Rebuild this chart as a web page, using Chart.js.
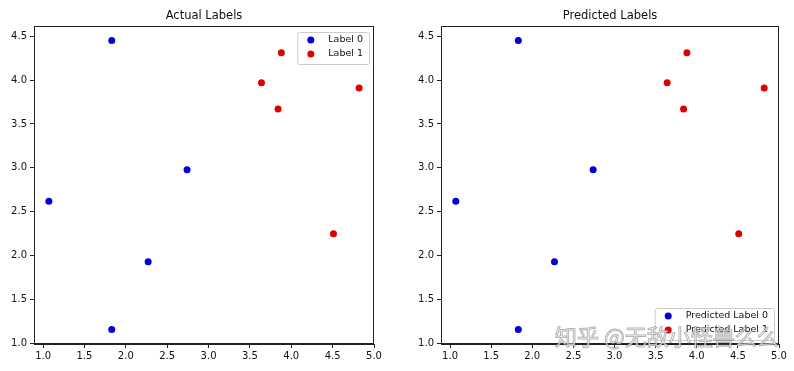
<!DOCTYPE html>
<html><head><meta charset="utf-8">
<script src="https://cdn.jsdelivr.net/npm/chart.js@4"></script>
<style>
html,body{margin:0;padding:0;background:#fff;}
#wrap{position:relative;width:794px;height:371px;overflow:hidden;}
.c{position:absolute;top:0;width:397px;height:371px;}
</style></head><body>
<div id="wrap">
<div class="c" style="left:0"><canvas id="left" width="397" height="371"></canvas></div>
<div class="c" style="left:397px"><canvas id="right" width="397" height="371"></canvas></div>
</div>
<script>
// ---- data ----
const xTicks = [1.0, 1.5, 2.0, 2.5, 3.0, 3.5, 4.0, 4.5, 5.0];
const yTicks = [1.0, 1.5, 2.0, 2.5, 3.0, 3.5, 4.0, 4.5];

const actual0X = [1.83, 2.74, 1.07, 2.27, 1.83];
const actual0Y = [4.45, 2.98, 2.62, 1.93, 1.16];
const actual1X = [3.88, 3.64, 3.84, 4.82, 4.51];
const actual1Y = [4.31, 3.97, 3.67, 3.91, 2.25];

const pred0X = [1.83, 2.74, 1.07, 2.27, 1.83];
const pred0Y = [4.45, 2.98, 2.62, 1.93, 1.16];
const pred1X = [3.88, 3.64, 3.84, 4.82, 4.51];
const pred1Y = [4.31, 3.97, 3.67, 3.91, 2.25];

const leftTitle = 'Actual Labels';
const rightTitle = 'Predicted Labels';
const leftNames = ['Label 0', 'Label 1'];
const rightNames = ['Predicted Label 0', 'Predicted Label 1'];
const watermarkText = '知乎 @无敌小怪兽么么';

// ---- styles ----
const BLUE = '#0000d8';
const RED = '#e00000';
const AXIS = '#222';
const FONT = "'DejaVu Sans', sans-serif";

function pts(xs, ys) { return xs.map((x, i) => ({ x: x, y: ys[i] })); }

const framePlugin = {
  id: 'frame',
  afterDatasetsDraw(chart, args, opts) {
    const ctx = chart.ctx, a = chart.chartArea;
    ctx.save();
    ctx.strokeStyle = AXIS; ctx.lineWidth = 1;
    ctx.strokeRect(Math.round(a.left) + 0.5, Math.round(a.top) + 0.5,
      Math.round(a.right - a.left) - 1, Math.round(a.bottom - a.top) - 1);
    // title
    ctx.fillStyle = '#111';
    ctx.font = '11.5px ' + FONT;
    ctx.textAlign = 'center'; ctx.textBaseline = 'middle';
    ctx.fillText(opts.title, (a.left + a.right) / 2, 16.5);
    // legend
    ctx.font = '9.5px ' + FONT;
    ctx.textAlign = 'left';
    const ds = chart.data.datasets;
    let tw = 0;
    ds.forEach(d => { tw = Math.max(tw, ctx.measureText(d.label).width); });
    const bw = 31 + tw + 6, bh = 32;
    const bx = a.right - 5 - bw;
    const by = opts.legend === 'upper right' ? a.top + 6 : a.bottom - 4 - bh;
    ctx.fillStyle = 'rgba(255,255,255,0.8)';
    ctx.strokeStyle = '#cccccc';
    ctx.beginPath();
    if (ctx.roundRect) ctx.roundRect(bx + 0.5, by + 0.5, bw, bh, 2); else ctx.rect(bx + 0.5, by + 0.5, bw, bh);
    ctx.fill(); ctx.stroke();
    ds.forEach((d, i) => {
      const cy = by + 8 + i * 14;
      ctx.fillStyle = d.backgroundColor;
      ctx.beginPath(); ctx.arc(bx + 13.5, cy, 3.5, 0, Math.PI * 2); ctx.fill();
      ctx.fillStyle = '#111';
      ctx.fillText(d.label, bx + 31, cy);
    });
    // watermark
    if (opts.watermark) {
      ctx.font = "22px 'Noto Sans CJK SC', sans-serif";
      ctx.textBaseline = 'middle';
      ctx.lineWidth = 1;
      ctx.strokeStyle = 'rgba(110,110,110,0.5)';
      ctx.fillStyle = 'rgba(255,255,255,0.8)';
      ctx.fillText(opts.watermark, 158, 337);
      ctx.strokeText(opts.watermark, 158, 337);
    }
    ctx.restore();
  }
};

function makeChart(id, title, names, d0, d1, legendPos, yWidth, rightPad, watermark) {
  const tickFont = { family: FONT, size: 10 };
  return new Chart(document.getElementById(id), {
    type: 'scatter',
    data: {
      datasets: [
        { label: names[0], data: d0, backgroundColor: BLUE, borderWidth: 0, pointRadius: 3.5, pointHoverRadius: 3.5 },
        { label: names[1], data: d1, backgroundColor: RED, borderWidth: 0, pointRadius: 3.5, pointHoverRadius: 3.5 }
      ]
    },
    options: {
      responsive: false,
      devicePixelRatio: 1,
      animation: false,
      events: [],
      layout: { padding: { top: 26, right: rightPad, left: 0, bottom: 0 } },
      plugins: {
        legend: { display: false },
        title: { display: false },
        tooltip: { enabled: false },
        frame: { title: title, legend: legendPos, watermark: watermark }
      },
      scales: {
        x: {
          type: 'linear', min: 0.89, max: 5.0,
          afterBuildTicks: s => { s.ticks = xTicks.map(v => ({ value: v })); },
          afterFit: s => { s.height = 27; },
          ticks: { font: tickFont, color: '#111', padding: 2, maxRotation: 0, autoSkip: false,
                   callback: v => Number(v).toFixed(1) },
          grid: { drawOnChartArea: false, drawTicks: true, tickLength: 4, color: AXIS },
          border: { display: true, color: AXIS, width: 1 }
        },
        y: {
          type: 'linear', min: 0.995, max: 4.615,
          afterBuildTicks: s => { s.ticks = yTicks.map(v => ({ value: v })); },
          afterFit: s => { s.width = yWidth; },
          ticks: { font: tickFont, color: '#111', padding: 3, autoSkip: false,
                   callback: v => Number(v).toFixed(1) },
          grid: { drawOnChartArea: false, drawTicks: true, tickLength: 4, color: AXIS },
          border: { display: true, color: AXIS, width: 1 }
        }
      }
    },
    plugins: [framePlugin]
  });
}

makeChart('left', leftTitle, leftNames, pts(actual0X, actual0Y), pts(actual1X, actual1Y), 'upper right', 34, 23, null);
makeChart('right', rightTitle, rightNames, pts(pred0X, pred0Y), pts(pred1X, pred1Y), 'lower right', 44, 15, watermarkText);
</script>
</body></html>
